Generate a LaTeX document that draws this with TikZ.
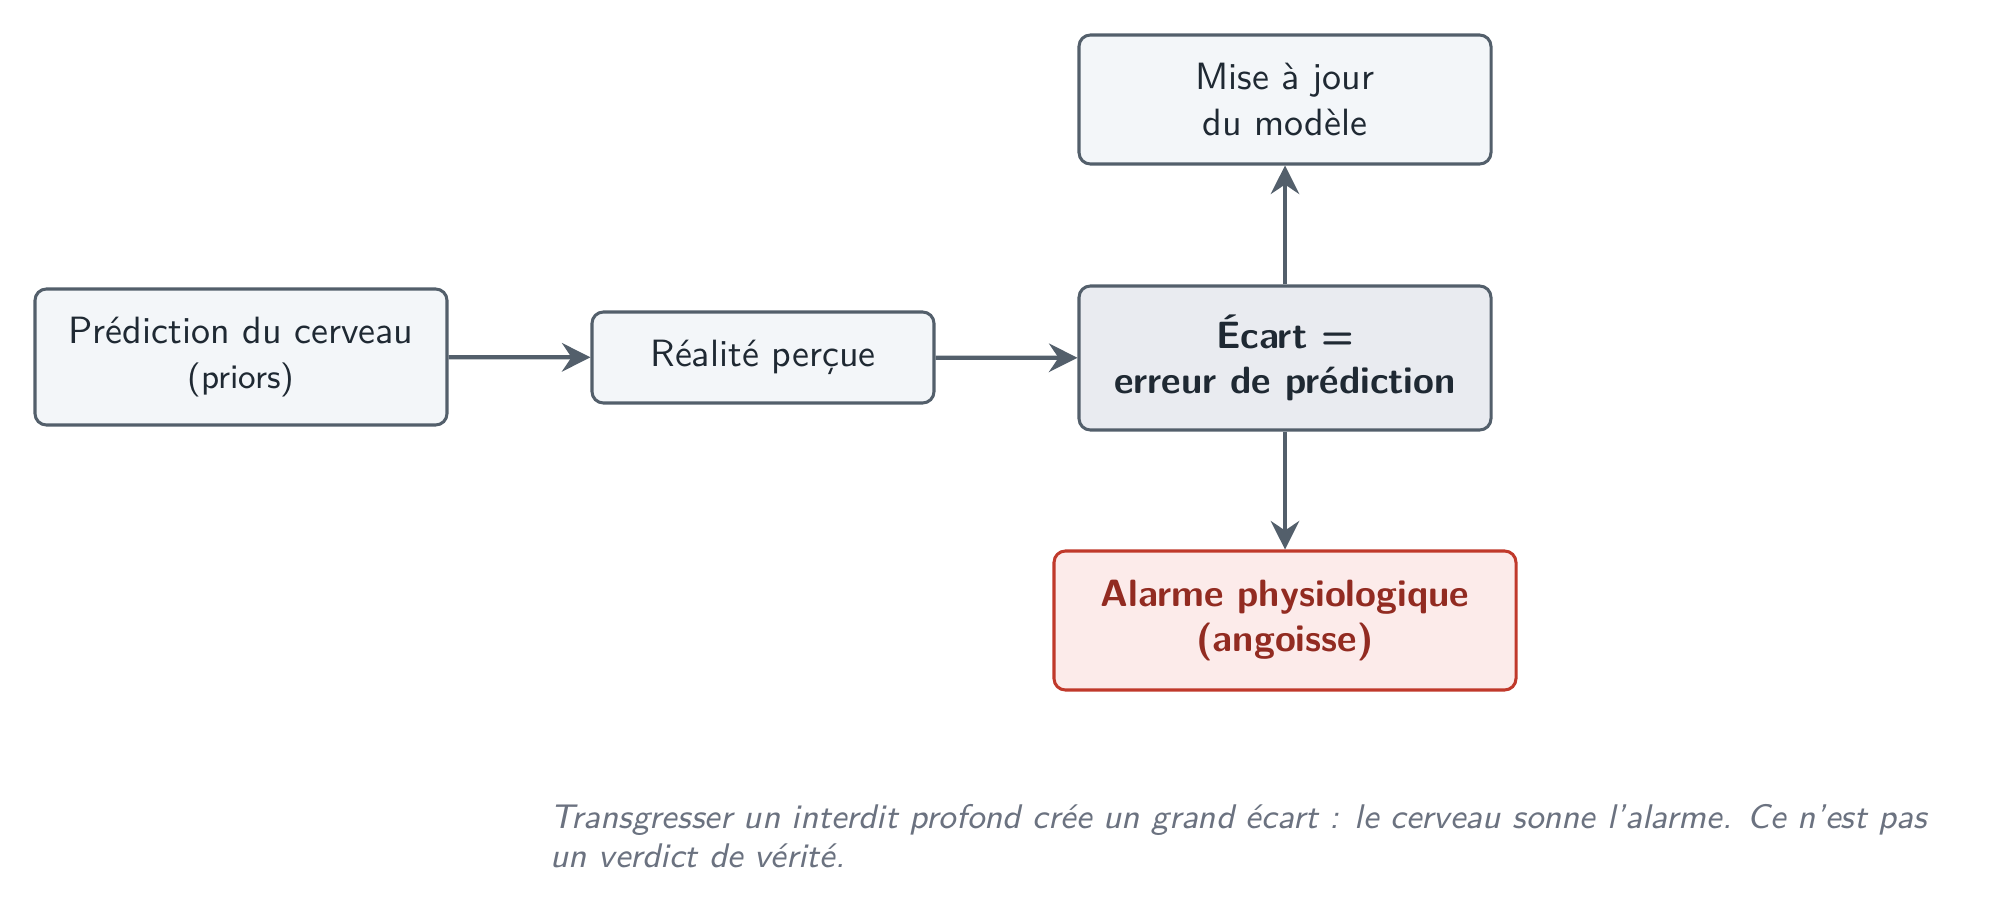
\documentclass[tikz,border=0pt]{standalone}
\usepackage{fontspec}
\usetikzlibrary{arrows.meta}
\definecolor{edgec}{HTML}{535F6B}
\definecolor{boxfill}{HTML}{F3F6F9}
\definecolor{gapfill}{HTML}{E9EBF0}
\definecolor{txt}{HTML}{1F2933}
\definecolor{alarmfill}{HTML}{FCEBEA}
\definecolor{alarmedge}{HTML}{C0392B}
\definecolor{alarmtxt}{HTML}{922B21}
\definecolor{captc}{HTML}{6B7280}
\newcommand\pxl[1]{#1*0.2632pt}
\begin{document}
\begin{tikzpicture}[x=0.2632pt,y=-0.2632pt,
  boxst/.style={draw=edgec, line width=0.8pt, rounded corners=3pt, fill=boxfill,
    text=txt, align=center, font=\sffamily, inner sep=0pt},
  arrowst/.style={draw=edgec, line width=1.1pt, -{Stealth[length=7.5pt,width=7.5pt,inset=2.5pt]}}
]
\useasboundingbox (0,0) rectangle (2014,912);
\node[boxst, minimum width=\pxl{412}, minimum height=\pxl{136}] (pred) at (241,357)
  {Prédiction du cerveau\\{\small (priors)}};
\node[boxst, minimum width=\pxl{342}, minimum height=\pxl{91}] (real) at (763,357.5)
  {Réalité perçue};
\node[boxst, fill=gapfill, minimum width=\pxl{412}, minimum height=\pxl{144}, font=\sffamily\bfseries] (gap) at (1285,358)
  {Écart =\\erreur de prédiction};
\node[boxst, minimum width=\pxl{412}, minimum height=\pxl{129}] (upd) at (1285,99.5)
  {Mise à jour\\du modèle};
\node[boxst, draw=alarmedge, fill=alarmfill, text=alarmtxt, minimum width=\pxl{462}, minimum height=\pxl{139}, font=\sffamily\bfseries] (alarm) at (1285,620.5)
  {Alarme physiologique\\(angoisse)};
\draw[arrowst] (pred) -- (real);
\draw[arrowst] (real) -- (gap);
\draw[arrowst] (gap) -- (upd);
\draw[arrowst] (gap) -- (alarm);
\node[anchor=north west, align=left, inner sep=0pt, text=captc, font=\sffamily\itshape\fontsize{9}{10.2}\selectfont] (cap) at (550,804)
  {Transgresser un interdit profond crée un grand écart : le cerveau sonne l’alarme. Ce n’est pas\\un verdict de vérité.};
\end{tikzpicture}
\end{document}
